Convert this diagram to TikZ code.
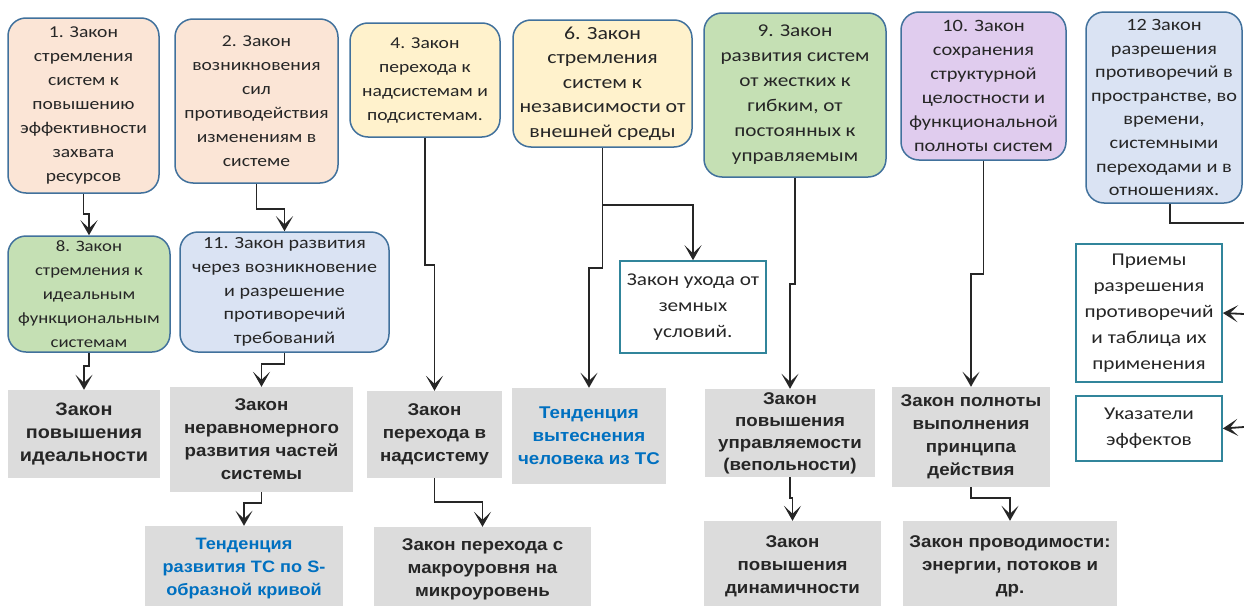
\documentclass[tikz,border=0pt]{standalone}
\usepackage{fontspec}
\setmainfont{Carlito}[FakeStretch=1.18]
\newfontfamily\gfont{Liberation Sans}[FakeStretch=1.1]
\usetikzlibrary{arrows.meta}
\definecolor{peach}{RGB}{251,229,214}
\definecolor{cream}{RGB}{255,242,204}
\definecolor{lgreen}{RGB}{197,224,180}
\definecolor{lav}{RGB}{224,204,238}
\definecolor{lblue}{RGB}{218,227,243}
\definecolor{bord}{RGB}{65,113,156}
\definecolor{tealb}{RGB}{49,133,155}
\definecolor{gfill}{RGB}{220,220,220}
\definecolor{gtext}{RGB}{38,38,38}
\definecolor{btext}{RGB}{0,112,192}
\definecolor{lnc}{RGB}{38,38,38}
\newcommand\fsz[2]{\fontsize{#1}{#2}\selectfont}
\tikzset{
  law/.style={draw=bord, line width=1.5pt, rounded corners=18pt, align=center,
    inner sep=0pt, text=gtext, font=\fsz{16.6}{24}},
  tbox/.style={draw=tealb, line width=1.6pt, align=center, inner sep=0pt,
    text=gtext, font=\fsz{18}{26}},
  gbox/.style={fill=gfill, align=center, inner sep=0pt, text=gtext,
    font=\gfont\bfseries\fsz{17}{23}},
  conn/.style={draw=lnc, line width=1.8pt,
    -{Stealth[length=15pt,width=17pt,inset=8pt]}},
  plain/.style={draw=lnc, line width=1.8pt}
}
\begin{document}
\begin{tikzpicture}[x=1pt,y=-1pt]
\useasboundingbox (0,0) rectangle (1244,605);
\clip (0,0) rectangle (1244,605);
% top row
\node[law, fill=peach, minimum width=151pt, minimum height=175pt] (b1) at (83.5,105.5)
  {1. Закон\\стремления\\систем к\\повышению\\эффективности\\захвата\\ресурсов};
\node[law, fill=peach, minimum width=163pt, minimum height=164pt] (b2) at (256.5,101)
  {2. Закон\\возникновения\\сил\\противодействия\\изменениям в\\системе};
\node[law, fill=cream, minimum width=150pt, minimum height=114pt] (b4) at (425,80)
  {4. Закон\\перехода к\\надсистемам и\\подсистемам.};
\node[law, fill=cream, minimum width=179pt, minimum height=127pt,
  font=\fsz{18.5}{24.5}] (b6) at (602.5,83.5)
  {6. Закон\\стремления\\систем к\\независимости от\\внешней среды};
\node[law, fill=lgreen, minimum width=182pt, minimum height=164pt,
  font=\fsz{18}{25}] (b9) at (795,95)
  {9. Закон\\развития систем\\от жестких к\\гибким, от\\постоянных к\\управляемым};
\node[law, fill=lav, minimum width=165pt, minimum height=148pt,
  font=\fsz{17.3}{24}] (b10) at (983.5,86)
  {10. Закон\\сохранения\\структурной\\целостности и\\функциональной\\полноты систем};
\node[law, fill=lblue, minimum width=156pt, minimum height=191pt,
  font=\fsz{17.2}{23.6}] (b12) at (1164,107.5)
  {12 Закон\\разрешения\\противоречий в\\пространстве, во\\времени,\\системными\\переходами и в\\отношениях.};
% second row
\node[law, fill=lgreen, minimum width=162pt, minimum height=116pt,
  font=\fsz{15.9}{24}] (b8) at (89,294)
  {8. Закон\\стремления к\\идеальным\\функциональным\\системам};
\node[law, fill=lblue, minimum width=209pt, minimum height=120pt,
  font=\fsz{17}{23.8}] (b11) at (284.5,292)
  {11. Закон развития\\через возникновение\\и разрешение\\противоречий\\требований};
\node[tbox, minimum width=146pt, minimum height=92pt] (u) at (693,307)
  {Закон ухода от\\земных\\условий.};
\node[tbox, minimum width=146pt, minimum height=138pt] (p) at (1149,313)
  {Приемы\\разрешения\\противоречий\\и таблица их\\применения};
\node[tbox, minimum width=146pt, minimum height=65pt] (uk) at (1149,428.5)
  {Указатели\\эффектов};
% grey row 1
\node[gbox, minimum width=152pt, minimum height=88pt,
  font=\gfont\bfseries\fsz{18}{23}] (g1) at (84,434)
  {Закон\\повышения\\идеальности};
\node[gbox, minimum width=183pt, minimum height=105pt] (g2) at (261.5,439.5)
  {Закон\\неравномерного\\развития частей\\системы};
\node[gbox, minimum width=135pt, minimum height=87pt] (g3) at (434.5,434.5)
  {Закон\\перехода в\\надсистему};
\node[gbox, minimum width=154pt, minimum height=96pt, text=btext] (g4) at (589,436)
  {Тенденция\\вытеснения\\человека из ТС};
\node[gbox, minimum width=170pt, minimum height=88pt,
  font=\gfont\bfseries\fsz{17}{22}] (g5) at (790,433)
  {Закон\\повышения\\управляемости\\(вепольности)};
\node[gbox, minimum width=158pt, minimum height=100pt] (g6) at (971,437)
  {Закон полноты\\выполнения\\принципа\\действия};
% grey row 2
\node[gbox, minimum width=198pt, minimum height=86pt, text=btext,
  font=\gfont\bfseries\fsz{16.5}{23}] (g7) at (244,569)
  {Тенденция\\развития ТС по S-\\образной кривой};
\node[gbox, minimum width=217pt, minimum height=85pt] (g8) at (482.5,569.5)
  {Закон перехода с\\макроуровня на\\микроуровень};
\node[gbox, minimum width=177pt, minimum height=91pt] (g9) at (792.5,566.5)
  {Закон\\повышения\\динамичности};
\node[gbox, minimum width=214pt, minimum height=91pt] (g10) at (1010,566.5)
  {Закон проводимости:\\энергии, потоков и\\др.};
% edge coordinates
\coordinate (e12) at (1244,223);
\coordinate (ep) at (1244,314);
\coordinate (euk) at (1244,427);
% connectors
\draw[conn] (b1.south) -- ++(0,20) -| (b8.north);
\draw[conn] (b2.south) -- ++(0,25) -| (b11.north);
\draw[conn] (b8.south) -- ++(0,13) -| (g1.north);
\draw[conn] (b11.south) -- ++(0,11) -| (g2.north);
\draw[conn] (b4.south) -- ++(0,127) -| (g3.north);
\draw[conn] (b6.south) -- ++(0,120) -| (g4.north);
\draw[conn] (b6.south) -- ++(0,57) -| (u.north);
\draw[conn] (b9.south) -- ++(0,106) -| (g5.north);
\draw[conn] (b10.south) -- ++(0,113) -| (g6.north);
\draw[plain] ([xshift=6pt]b12.south) |- (e12);
\draw[conn] (ep) -- (p.east);
\draw[conn] (euk) -- (uk.east);
\draw[conn] (g2.south) -- ++(0,11) -| (g7.north);
\draw[conn] (g3.south) -- ++(0,24) -| (g8.north);
\draw[conn] (g5.south) -- ++(0,21) -| (g9.north);
\draw[conn] (g6.south) -- ++(0,11) -| (g10.north);
\end{tikzpicture}
\end{document}
